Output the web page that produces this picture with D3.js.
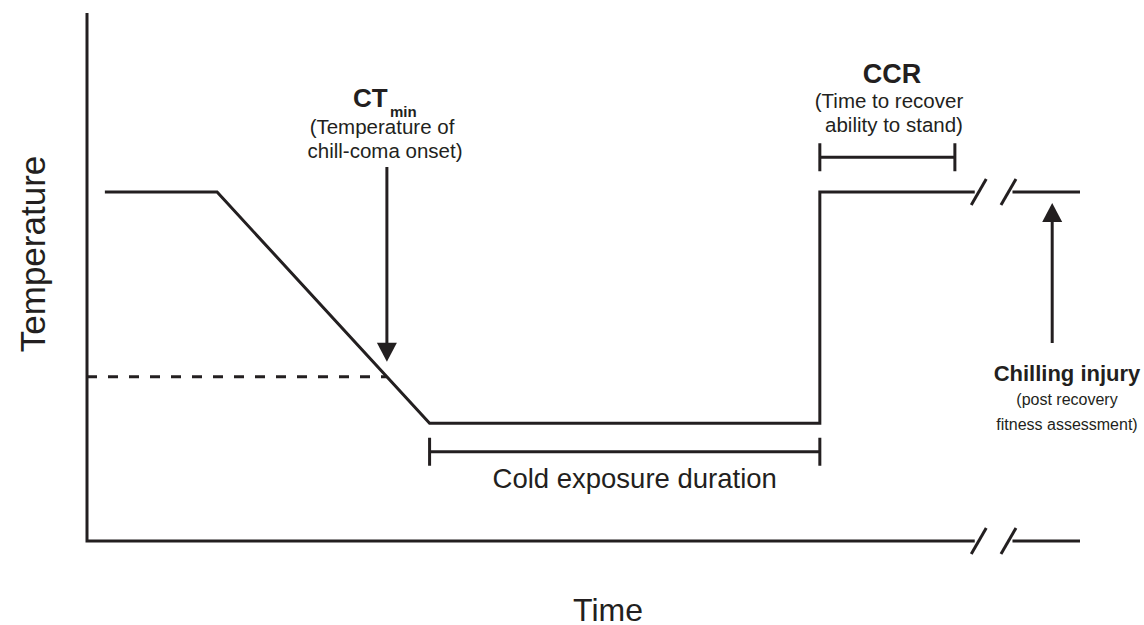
<!DOCTYPE html>
<html>
<head>
<meta charset="utf-8">
<script src="https://cdn.jsdelivr.net/npm/d3@7/dist/d3.min.js"></script>
<style>
  body { margin: 0; background: #fff; }
  text { font-family: "Liberation Sans", Arial, sans-serif; fill: #231f20; }
</style>
</head>
<body>
<script>
// schematic of a cold tolerance trial, values in arbitrary units (0-100)
var timeDomain = [0, 100],
	tempDomain = [0, 100];

// temperature profile before the axis break
var profileTime = [1.8, 13.1, 34.5, 73.8, 73.8, 89.4],
	profileTemp = [66.1, 66.1, 22.3, 22.3, 66.1, 66.1];

// profile after the break
var laterTime = [93.2, 100],
	laterTemp = [66.1, 66.1];

var axisBreak = [89.4, 93.2];
var ctMinTemp = 31.1;
var exposureSpan = [34.5, 73.8], exposureLevel = 16.9;
var ccrSpan = [73.8, 87.4], ccrLevel = 72.7;
var injuryTime = 97.2, injuryArrowTemp = [37.5, 66.1];

var width = 1144, height = 625, ink = '#231f20';

var x = d3.scaleLinear().domain(timeDomain).range([87, 1080]);
var y = d3.scaleLinear().domain(tempDomain).range([541, 13]);

var svg = d3.select('body').append('svg')
	.attr('width', width)
	.attr('height', height);

var line = d3.line()
	.x(function(d) { return x(d[0]); })
	.y(function(d) { return y(d[1]); });

function stroke(sel) {
	return sel.attr('fill', 'none').attr('stroke', ink).attr('stroke-width', 3);
}

// axes (left + bottom with a break)
stroke(svg.append('path'))
	.attr('d', line([[timeDomain[0], tempDomain[1]], [timeDomain[0], tempDomain[0]], [axisBreak[0], tempDomain[0]]]));
stroke(svg.append('path'))
	.attr('d', line([[axisBreak[1], tempDomain[0]], [timeDomain[1], tempDomain[0]]]));

// temperature profile
stroke(svg.append('path'))
	.attr('d', line(d3.zip(profileTime, profileTemp)));
stroke(svg.append('path'))
	.attr('d', line(d3.zip(laterTime, laterTemp)));

// break slashes on the profile and on the x axis
function slashes(level) {
	[x(axisBreak[0]) + 4, x(axisBreak[1]) - 4].forEach(function(cx) {
		stroke(svg.append('line'))
			.attr('x1', cx - 7.5).attr('y1', y(level) + 13)
			.attr('x2', cx + 7.5).attr('y2', y(level) - 13);
	});
}
slashes(laterTemp[0]);
slashes(tempDomain[0]);

// where the ramp crosses CTmin
var k = (profileTemp[1] - ctMinTemp) / (profileTemp[1] - profileTemp[2]);
var ctMinTime = profileTime[1] + k * (profileTime[2] - profileTime[1]);

stroke(svg.append('path'))
	.attr('stroke-dasharray', '10,11')
	.attr('d', line([[timeDomain[0], ctMinTemp], [ctMinTime, ctMinTemp]]));

// arrows: stem from yFrom, filled head ending at yTip
function arrow(px, yFrom, yTip) {
	var dir = yTip > yFrom ? 1 : -1;
	stroke(svg.append('line'))
		.attr('x1', px).attr('y1', yFrom)
		.attr('x2', px).attr('y2', yTip - dir * 15);
	svg.append('path')
		.attr('fill', ink)
		.attr('d', 'M' + px + ',' + yTip + 'L' + (px - 10) + ',' + (yTip - dir * 19) +
			'L' + (px + 10) + ',' + (yTip - dir * 19) + 'Z');
}
arrow(x(ctMinTime), 167, y(ctMinTemp) - 15);
arrow(x(injuryTime), y(injuryArrowTemp[0]), y(injuryArrowTemp[1]) + 11);

// span brackets
function bracket(span, level) {
	var yy = y(level);
	stroke(svg.append('path'))
		.attr('d', 'M' + x(span[0]) + ',' + (yy - 14) + 'V' + (yy + 14) +
			'M' + x(span[0]) + ',' + yy + 'H' + x(span[1]) +
			'M' + x(span[1]) + ',' + (yy - 14) + 'V' + (yy + 14));
}
bracket(exposureSpan, exposureLevel);
bracket(ccrSpan, ccrLevel);

// labels
function label(txt, px, py, size, weight, anchor) {
	return svg.append('text')
		.attr('x', px).attr('y', py)
		.attr('font-size', size)
		.attr('font-weight', weight || 'normal')
		.attr('text-anchor', anchor || 'middle')
		.text(txt);
}

label('Temperature', 0, 0, 35)
	.attr('transform', 'translate(45,254) rotate(-90)');
label('Time', 608, 621, 32);

label('Cold exposure duration', d3.mean(exposureSpan.map(x)) + 10, 488, 27.5);

label('CT', 353, 107, 26, 'bold', 'start');
label('min', 390, 117, 15, 'bold', 'start');
label('(Temperature of', 382, 134, 20.5);
label('chill-coma onset)', 385, 158, 20.5);

label('CCR', 892, 83, 27, 'bold');
label('(Time to recover', 889, 108, 20.5);
label('ability to stand)', 894, 132, 20.5);

label('Chilling injury', 1067, 381, 22, 'bold');
label('(post recovery', 1067, 405, 16);
label('fitness assessment)', 1067, 430, 16);
</script>
</body>
</html>
